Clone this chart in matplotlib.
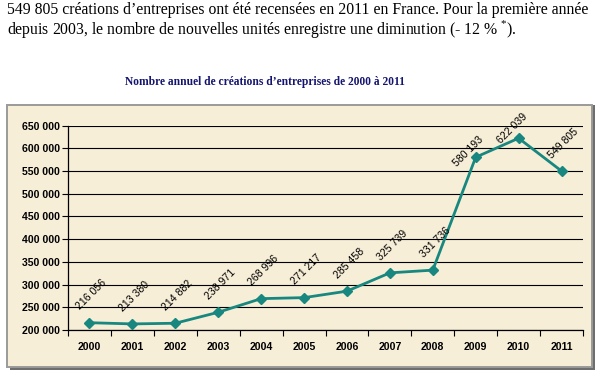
import matplotlib.pyplot as plt
from matplotlib.patches import Rectangle
from matplotlib.ticker import FixedLocator

plt.rcParams['mathtext.fontset'] = 'custom'
plt.rcParams['mathtext.rm'] = 'Liberation Serif'

# ---------- data ----------
years = ['2000', '2001', '2002', '2003', '2004', '2005',
         '2006', '2007', '2008', '2009', '2010', '2011']
creations = [216056, 213380, 214882, 238971, 268996, 271217,
             285458, 325739, 331736, 580193, 622039, 549805]
y_ticks = [200000, 250000, 300000, 350000, 400000, 450000,
           500000, 550000, 600000, 650000]

line_color = '#17877f'
bg_color = '#f7eed8'


def fmt(v):
    return f"{v:,}".replace(',', ' ')


W, H = 601, 373
fig = plt.figure(figsize=(W / 100, H / 100), dpi=100)

# header text
serif = 'Liberation Serif'
fig.text(7 / W, 1 - 10.5 / H,
         "549 805 créations d\u2019entreprises ont été recensées en 2011 en France. Pour la première année",
         family=serif, fontsize=11.3, va='center', ha='left')
fig.text(7 / W, 1 - 28.5 / H,
         "depuis 2003, le nombre de nouvelles unités enregistre une diminution (- 12 % $^{*}$).",
         family=serif, fontsize=11.3, va='center', ha='left')

# chart title
fig.text(265 / W, 1 - 82 / H,
         "Nombre annuel de créations d\u2019entreprises de 2000 à 2011",
         family=serif, fontsize=8.3, fontweight='bold', color='#14146e',
         ha='center', va='center')

# chart box with shadow
fig.patches.append(Rectangle((10 / W, 1 - 370 / H), 585 / W, 265 / H,
                             transform=fig.transFigure, facecolor='#6e6e6e',
                             edgecolor='none', zorder=0))
fig.patches.append(Rectangle((7 / W, 1 - 367 / H), 585 / W, 262 / H,
                             transform=fig.transFigure, facecolor=bg_color,
                             edgecolor='#9a9a9a', linewidth=1.4, zorder=1))

# plot area
left, right, top, bottom = 68, 583, 125.5, 330
ax = fig.add_axes([left / W, 1 - bottom / H, (right - left) / W, (bottom - top) / H])
ax.set_facecolor('none')
ax.set_zorder(2)

x = list(range(len(years)))
ax.plot(x, creations, color=line_color, lw=2.0, marker='D', markersize=5.5,
        markerfacecolor=line_color, markeredgecolor=line_color, zorder=3,
        clip_on=False)

# labels sit above each point; the two near the top are pulled in
label_offset = {9: (-5, 4.5), 10: (-4.3, 7.3)}
for xi, v in zip(x, creations):
    ax.annotate(fmt(v), (xi, v), xytext=label_offset.get(xi, (1.5, 20)),
                textcoords='offset points',
                rotation=45, ha='center', va='center', fontsize=7.6,
                family='Liberation Sans', annotation_clip=False, zorder=4)

ax.set_xlim(-0.5, len(years) - 0.5)
ax.set_ylim(200000, 650000)
ax.set_yticks(y_ticks)
ax.set_yticklabels([fmt(t) for t in y_ticks], fontsize=7.6,
                   family='Liberation Sans', fontweight='bold')
ax.set_xticks(x)
ax.set_xticklabels(years, fontsize=7.6, family='Liberation Sans', fontweight='bold')
ax.tick_params(axis='x', which='major', length=0, pad=8.5)
ax.xaxis.set_minor_locator(FixedLocator([i + 0.5 for i in range(-1, len(years))]))
ax.tick_params(axis='x', which='minor', length=4, width=0.8, direction='out')
ax.tick_params(axis='y', length=4, width=0.8, direction='out', pad=2)

ax.grid(axis='y', color='black', lw=0.8)
ax.set_axisbelow(True)
for s in ['top', 'right']:
    ax.spines[s].set_visible(False)
for s in ['left', 'bottom']:
    ax.spines[s].set_linewidth(0.9)

fig.savefig('out.png', dpi=100)
